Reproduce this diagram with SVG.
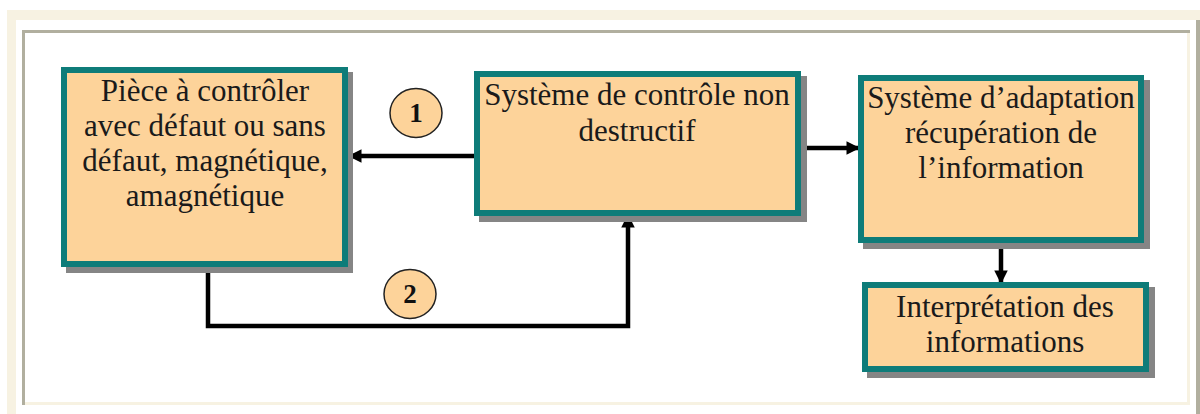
<svg xmlns="http://www.w3.org/2000/svg" width="1200" height="414" viewBox="0 0 1200 414">
  <defs>
    <style>
      .box { fill: #fdd39a; stroke: #0e7c79; stroke-width: 6; }
      .shadow { fill: #858585; }
      .label { font-family: "Liberation Serif", "Times New Roman", serif; font-size: 31px; fill: #1a1a1a; text-anchor: middle; }
      .num { font-family: "Liberation Serif", "Times New Roman", serif; font-size: 27px; font-weight: bold; fill: #111; text-anchor: middle; }
      .badge { fill: #fdd39a; stroke: #222; stroke-width: 1.5; }
      .wire { fill: none; stroke: #000; stroke-width: 4.5; }
    </style>
    <marker id="head" viewBox="0 0 10 10" refX="10" refY="5" markerWidth="3.4" markerHeight="3" orient="auto" markerUnits="strokeWidth">
      <path d="M0,0 L10,5 L0,10 Z" fill="#000"/>
    </marker>
  </defs>

  <!-- page background and frame -->
  <rect x="0" y="0" width="1200" height="414" fill="#ffffff"/>
  <rect x="7" y="10" width="1193" height="404" fill="#f7f2e2"/>
  <rect x="16" y="20" width="1180" height="394" fill="#ffffff"/>
  <rect x="22" y="30" width="1168" height="375" fill="#f7f2e2"/>
  <rect x="25" y="33" width="1162" height="369" fill="#ffffff"/>
  <path d="M23.5,405 L23.5,31.5 L1190,31.5" fill="none" stroke="#b1af9f" stroke-width="3"/>
  <rect x="1196" y="20" width="4" height="394" fill="#b1af9f"/>

  <!-- connectors -->
  <g id="connectors">
    <line class="wire" x1="474" y1="156" x2="348" y2="156" marker-end="url(#head)"/>
    <line class="wire" x1="801" y1="148" x2="860" y2="148" marker-end="url(#head)"/>
    <line class="wire" x1="1001" y1="243" x2="1001" y2="284" marker-end="url(#head)"/>
    <path class="wire" d="M208,267 L208,326 L628,326 L628,214" stroke-width="5" marker-end="url(#head)"/>
    <g id="badge-1">
      <ellipse class="badge" cx="416" cy="113" rx="26" ry="24.5"/>
      <text class="num" x="416" y="122">1</text>
    </g>
    <g id="badge-2">
      <ellipse class="badge" cx="410" cy="294" rx="26" ry="24.5"/>
      <text class="num" x="410" y="303">2</text>
    </g>
  </g>

  <g id="piece">
    <rect class="shadow" x="66" y="72" width="287" height="201"/>
    <rect class="box" x="64" y="70" width="281" height="194"/>
    <text class="label" x="205" y="101">Pièce à contrôler</text>
    <text class="label" x="205" y="136">avec défaut ou sans</text>
    <text class="label" x="205" y="171">défaut, magnétique,</text>
    <text class="label" x="205" y="206">amagnétique</text>
  </g>

  <g id="controle">
    <rect class="shadow" x="479" y="76" width="328" height="146"/>
    <rect class="box" x="477" y="74" width="321" height="139"/>
    <text class="label" x="637" y="105">Système de contrôle non</text>
    <text class="label" x="637" y="141">destructif</text>
  </g>

  <g id="adaptation">
    <rect class="shadow" x="863" y="80" width="287" height="169"/>
    <rect class="box" x="861" y="78" width="280" height="162"/>
    <text class="label" x="1001" y="108">Système d’adaptation</text>
    <text class="label" x="1001" y="143">récupération de</text>
    <text class="label" x="1001" y="178">l’information</text>
  </g>

  <g id="interpretation">
    <rect class="shadow" x="867" y="287" width="288" height="91"/>
    <rect class="box" x="865" y="285" width="281" height="84"/>
    <text class="label" x="1005" y="317">Interprétation des</text>
    <text class="label" x="1005" y="352">informations</text>
  </g>
</svg>
